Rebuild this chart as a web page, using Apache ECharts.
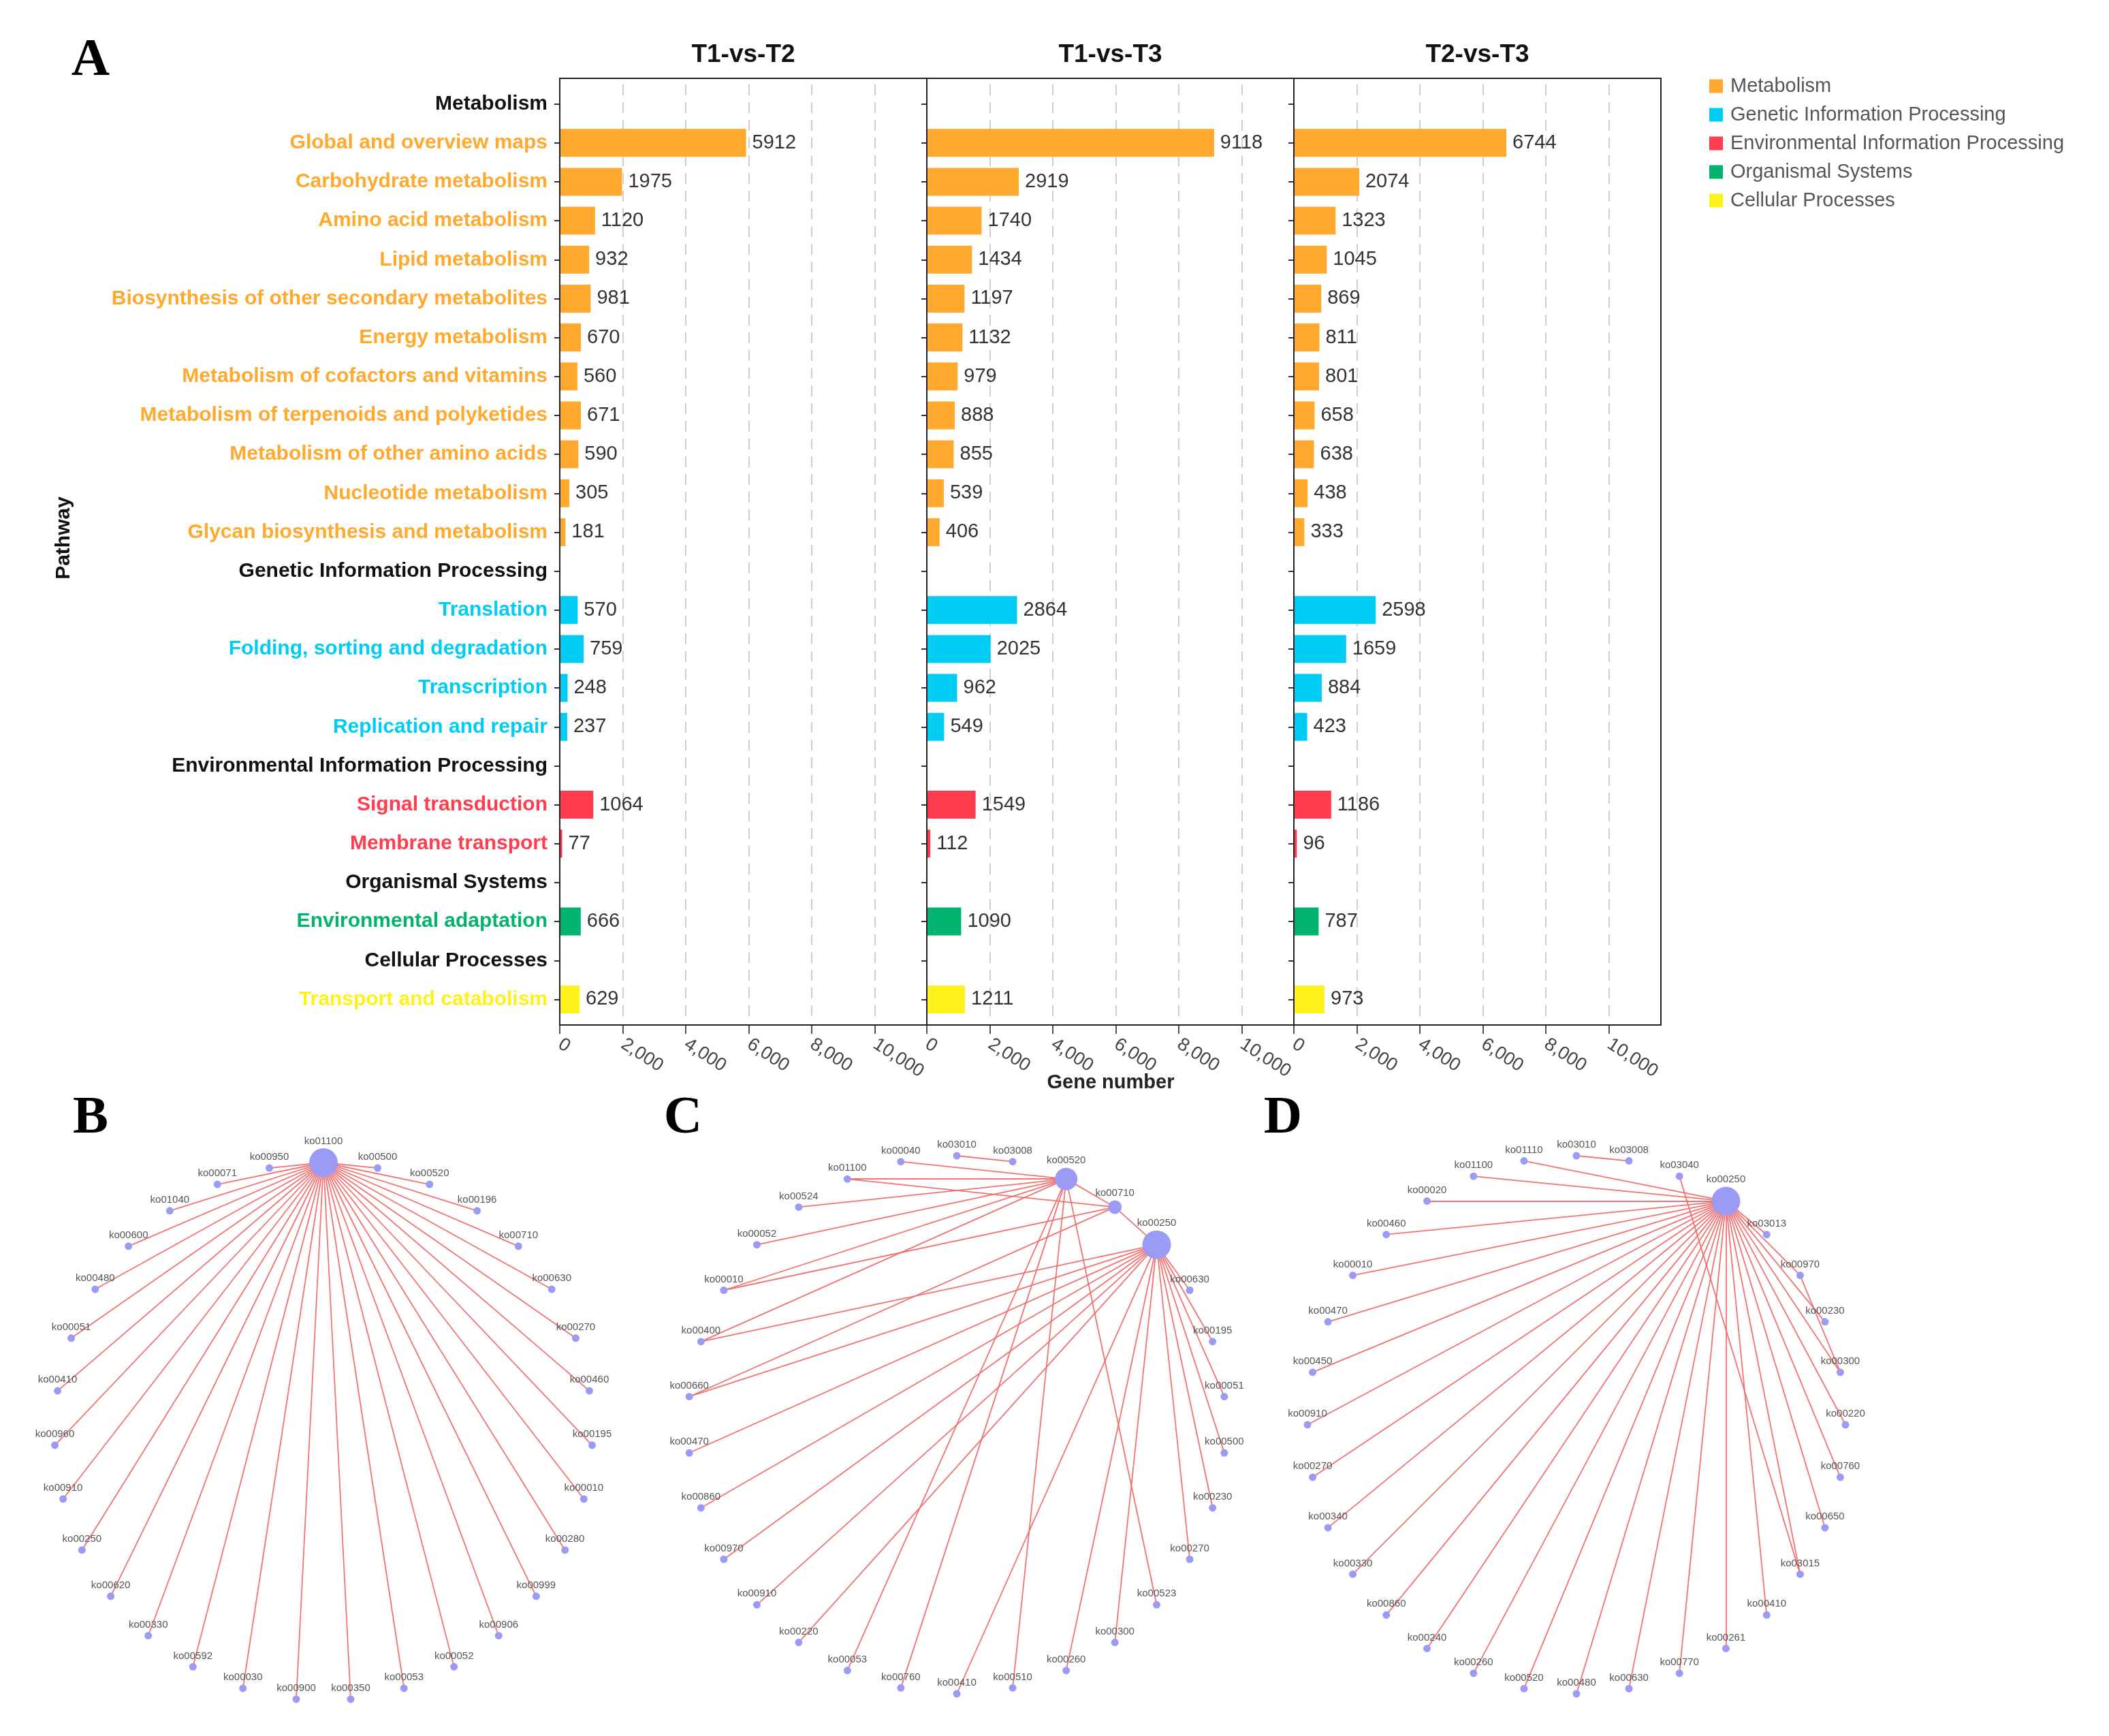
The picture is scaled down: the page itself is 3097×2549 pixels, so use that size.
<!DOCTYPE html>
<html>
<head>
<meta charset="utf-8">
<title>KEGG pathway classification and pathway networks</title>
<script src="https://cdn.jsdelivr.net/npm/echarts@6/dist/echarts.min.js"></script>
<style>
    html, body { margin: 0; padding: 0; background: #ffffff; }
    #container { width: 3097px; height: 2549px; }
</style>
</head>
<body>
<div id="container"></div>
<script>
// ---- data: panel A ----
var groupNames = ['Metabolism', 'Genetic Information Processing', 'Environmental Information Processing', 'Organismal Systems', 'Cellular Processes'];

var pathways = [
    'Global and overview maps', 'Carbohydrate metabolism', 'Amino acid metabolism', 'Lipid metabolism',
    'Biosynthesis of other secondary metabolites', 'Energy metabolism', 'Metabolism of cofactors and vitamins',
    'Metabolism of terpenoids and polyketides', 'Metabolism of other amino acids', 'Nucleotide metabolism',
    'Glycan biosynthesis and metabolism',
    'Translation', 'Folding, sorting and degradation', 'Transcription', 'Replication and repair',
    'Signal transduction', 'Membrane transport',
    'Environmental adaptation',
    'Transport and catabolism'
];
var pathwayGroup = [0, 0, 0, 0, 0, 0, 0, 0, 0, 0, 0, 1, 1, 1, 1, 2, 2, 3, 4];

var comparisons = ['T1-vs-T2', 'T1-vs-T3', 'T2-vs-T3'];
var t1VsT2 = [5912, 1975, 1120, 932, 981, 670, 560, 671, 590, 305, 181, 570, 759, 248, 237, 1064, 77, 666, 629];
var t1VsT3 = [9118, 2919, 1740, 1434, 1197, 1132, 979, 888, 855, 539, 406, 2864, 2025, 962, 549, 1549, 112, 1090, 1211];
var t2VsT3 = [6744, 2074, 1323, 1045, 869, 811, 801, 658, 638, 438, 333, 2598, 1659, 884, 423, 1186, 96, 787, 973];

// ---- data: networks B, C, D (nodes listed clockwise from the top of the ring) ----
var netBNodes = ['ko01100', 'ko00500', 'ko00520', 'ko00196', 'ko00710', 'ko00630', 'ko00270', 'ko00460',
    'ko00195', 'ko00010', 'ko00280', 'ko00999', 'ko00906', 'ko00052', 'ko00053', 'ko00350', 'ko00900',
    'ko00030', 'ko00592', 'ko00330', 'ko00620', 'ko00250', 'ko00910', 'ko00960', 'ko00410', 'ko00051',
    'ko00480', 'ko00600', 'ko01040', 'ko00071', 'ko00950'];
var netBHub = 'ko01100';

var netCNodes = ['ko03010', 'ko03008', 'ko00520', 'ko00710', 'ko00250', 'ko00630', 'ko00195', 'ko00051',
    'ko00500', 'ko00230', 'ko00270', 'ko00523', 'ko00300', 'ko00260', 'ko00510', 'ko00410', 'ko00760',
    'ko00053', 'ko00220', 'ko00910', 'ko00970', 'ko00860', 'ko00470', 'ko00660', 'ko00400', 'ko00010',
    'ko00052', 'ko00524', 'ko01100', 'ko00040'];
var netCLinks = [
    ['ko03010', 'ko03008'],
    ['ko00040', 'ko00520'], ['ko01100', 'ko00520'], ['ko01100', 'ko00710'], ['ko00524', 'ko00520'],
    ['ko00052', 'ko00520'], ['ko00010', 'ko00520'], ['ko00010', 'ko00710'], ['ko00400', 'ko00520'],
    ['ko00053', 'ko00520'], ['ko00760', 'ko00520'], ['ko00510', 'ko00520'], ['ko00523', 'ko00520'],
    ['ko00520', 'ko00710'], ['ko00710', 'ko00250'], ['ko00660', 'ko00710'],
    ['ko00630', 'ko00250'], ['ko00195', 'ko00250'], ['ko00051', 'ko00250'], ['ko00500', 'ko00250'],
    ['ko00230', 'ko00250'], ['ko00270', 'ko00250'], ['ko00300', 'ko00250'], ['ko00260', 'ko00250'],
    ['ko00410', 'ko00250'], ['ko00220', 'ko00250'], ['ko00910', 'ko00250'], ['ko00970', 'ko00250'],
    ['ko00860', 'ko00250'], ['ko00470', 'ko00250'], ['ko00660', 'ko00250'], ['ko00400', 'ko00250']
];

var netDNodes = ['ko03010', 'ko03008', 'ko03040', 'ko00250', 'ko03013', 'ko00970', 'ko00230', 'ko00300',
    'ko00220', 'ko00760', 'ko00650', 'ko03015', 'ko00410', 'ko00261', 'ko00770', 'ko00630', 'ko00480',
    'ko00520', 'ko00260', 'ko00240', 'ko00860', 'ko00330', 'ko00340', 'ko00270', 'ko00910', 'ko00450',
    'ko00470', 'ko00010', 'ko00460', 'ko00020', 'ko01100', 'ko01110'];
var netDHub = 'ko00250';
var netDNotOnHub = ['ko03010', 'ko03008', 'ko03040'];
var netDExtraLinks = [['ko03010', 'ko03008'], ['ko03040', 'ko03015'], ['ko00970', 'ko00300']];

// ---- styles / layout ----
var groupColors = ['#FFA92F', '#00CCF4', '#FF3D4E', '#00B46F', '#FFF21C'];
var nodeColor = '#9B9BF6';
var edgeColor = '#F06C6C';
var panelLeft = [822, 1361, 1900];
var panelWidth = 539;
var panelTop = 115;
var panelHeight = 1390;
var bandPad = 9;          // extra space above the first and below the last row
var geneAxisMax = 11650;
var hubSizeB = { ko01100: 42 };
var hubSizeC = { ko00250: 42, ko00520: 33, ko00710: 20 };
var hubSizeD = { ko00250: 42 };

// rows of the category axis: a header row for each group, then its pathways
var rowNames = [], rowGroup = [], rowSource = [];
var lastGroup = -1;
for (var i = 0; i < pathways.length; i++) {
    if (pathwayGroup[i] !== lastGroup) {
        lastGroup = pathwayGroup[i];
        rowNames.push(groupNames[lastGroup]);
        rowGroup.push(lastGroup);
        rowSource.push(-1);
    }
    rowNames.push(pathways[i]);
    rowGroup.push(pathwayGroup[i]);
    rowSource.push(i);
}

var richLabel = { h: { color: '#111111', fontWeight: 'bold', fontSize: 30 } };
groupColors.forEach(function (c, k) {
    richLabel['g' + k] = { color: c, fontWeight: 'bold', fontSize: 30 };
});

var grids = [], xAxes = [], yAxes = [], series = [], graphic = [];
var valueSets = [t1VsT2, t1VsT3, t2VsT3];

valueSets.forEach(function (vals, g) {
    grids.push({
        left: panelLeft[g], top: panelTop + bandPad, width: panelWidth, height: panelHeight - 2 * bandPad,
        show: false, containLabel: false, outerBoundsMode: 'none'
    });
    xAxes.push({
        type: 'value', gridIndex: g, min: 0, max: geneAxisMax, interval: 2000, offset: bandPad,
        axisLine: { show: false },
        axisTick: { show: true, length: 13, lineStyle: { color: '#555', width: 2 } },
        axisLabel: {
            rotate: -33, fontSize: 27, color: '#444', margin: 26,
            showMaxLabel: false, showMinLabel: true,
            formatter: function (v) { return echarts.format.addCommas(v); }
        },
        splitLine: { show: true, showMinLine: false, showMaxLine: false,
            lineStyle: { color: '#cfcfcf', width: 2, type: [16, 10] } }
    });
    yAxes.push({
        type: 'category', gridIndex: g, data: rowNames, inverse: true,
        axisLine: { show: false },
        axisTick: { show: true, alignWithLabel: true, interval: 0, length: 8, lineStyle: { color: '#333', width: 2 } },
        splitLine: { show: false },
        axisLabel: g === 0 ? {
            interval: 0, margin: 18, fontSize: 30, fontWeight: 'bold',
            formatter: function (value, idx) {
                var key = rowSource[idx] < 0 ? 'h' : 'g' + rowGroup[idx];
                return '{' + key + '|' + value + '}';
            },
            rich: richLabel
        } : { show: false }
    });
    groupNames.forEach(function (name, k) {
        series.push({
            type: 'bar', name: name, xAxisIndex: g, yAxisIndex: g, stack: 'cmp' + g,
            barWidth: 41,
            itemStyle: { color: groupColors[k] },
            label: { show: true, position: 'right', distance: 9, color: '#333', fontSize: 29 },
            data: rowSource.map(function (src) {
                return src >= 0 && pathwayGroup[src] === k ? vals[src] : null;
            })
        });
    });
    // panel frame
    graphic.push({
        type: 'rect', z: 10, silent: true,
        shape: { x: panelLeft[g], y: panelTop, width: panelWidth, height: panelHeight },
        style: { fill: 'none', stroke: '#222', lineWidth: 2 }
    });
    graphic.push({
        type: 'text', x: panelLeft[g] + panelWidth / 2, y: 81,
        style: { text: comparisons[g], font: 'bold 37px "Liberation Sans", Arial, sans-serif', fill: '#111',
            align: 'center', verticalAlign: 'middle', textAlign: 'center', textVerticalAlign: 'middle' }
    });
});

// panel letters and axis names
function addText(txt, x, y, font, color, rotation) {
    graphic.push({
        type: 'text', x: x, y: y, rotation: rotation || 0,
        style: { text: txt, font: font, fill: color,
            align: 'center', verticalAlign: 'middle', textAlign: 'center', textVerticalAlign: 'middle' }
    });
}
var letterFont = 'bold 78px "Liberation Serif", "Times New Roman", serif';
addText('A', 133, 90, letterFont, '#000');
addText('B', 133, 1643, letterFont, '#000');
addText('C', 1003, 1643, letterFont, '#000');
addText('D', 1884, 1643, letterFont, '#000');
addText('Pathway', 94, 790, 'bold 30px "Liberation Sans", Arial, sans-serif', '#111', Math.PI / 2);
addText('Gene number', 1631, 1590, 'bold 29px "Liberation Sans", Arial, sans-serif', '#222');

// ---- networks: nodes placed on a polar angle axis ----
var polars = [], angleAxes = [], radiusAxes = [];
var nets = [
    { nodes: netBNodes, hubs: hubSizeB, center: [475, 2102],
      links: netBNodes.filter(function (n) { return n !== netBHub; }).map(function (n) { return [n, netBHub]; }) },
    { nodes: netCNodes, hubs: hubSizeC, center: [1405, 2092], links: netCLinks },
    { nodes: netDNodes, hubs: hubSizeD, center: [2315, 2092],
      links: netDNodes.filter(function (n) { return n !== netDHub && netDNotOnHub.indexOf(n) < 0; })
          .map(function (n) { return [n, netDHub]; }).concat(netDExtraLinks) }
];

nets.forEach(function (net, p) {
    polars.push({ center: net.center, radius: [0, 395] });
    angleAxes.push({
        polarIndex: p, type: 'category', data: net.nodes, boundaryGap: false,
        startAngle: 90, clockwise: true, show: false
    });
    radiusAxes.push({ polarIndex: p, type: 'value', min: 0, max: 1, show: false });
    series.push({
        type: 'graph', coordinateSystem: 'polar', polarIndex: p, silent: true,
        symbol: 'circle',
        data: net.nodes.map(function (n) {
            return { name: n, value: [1, n], symbolSize: net.hubs[n] || 11 };
        }),
        links: net.links.map(function (l) { return { source: l[0], target: l[1] }; }),
        itemStyle: { color: nodeColor, opacity: 1 },
        lineStyle: { color: edgeColor, width: 1.8, opacity: 0.95, curveness: 0 },
        label: { show: true, position: 'top', distance: 3, fontSize: 15, color: '#555' }
    });
});

var dom = document.getElementById('container');
var myChart = echarts.init(dom);

myChart.setOption({
    animation: false,
    backgroundColor: '#ffffff',
    textStyle: { fontFamily: '"Liberation Sans", Arial, sans-serif' },
    legend: {
        orient: 'vertical', left: 2505, top: 107,
        data: groupNames, icon: 'rect', itemWidth: 20, itemHeight: 20, itemGap: 13,
        selectedMode: false,
        textStyle: { fontSize: 29, color: '#555', padding: [0, 0, 0, 6] }
    },
    grid: grids,
    xAxis: xAxes,
    yAxis: yAxes,
    polar: polars,
    angleAxis: angleAxes,
    radiusAxis: radiusAxes,
    graphic: graphic,
    series: series
});
</script>
</body>
</html>
